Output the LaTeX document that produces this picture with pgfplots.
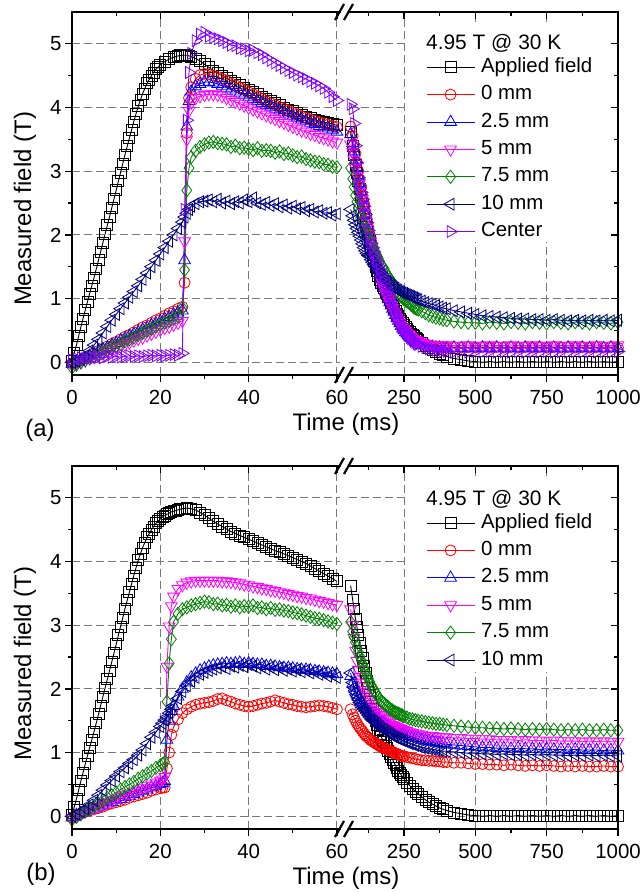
\documentclass[border=0pt]{standalone}
\usepackage{fontspec}
\setmainfont{Liberation Sans}
\usepackage{pgfplots}
\usepackage{pgfplotstable}
\pgfplotsset{compat=1.18}
\definecolor{cR}{RGB}{255,0,0}
\definecolor{cB}{RGB}{0,0,255}
\definecolor{cM}{RGB}{255,0,255}
\definecolor{cG}{RGB}{0,128,0}
\definecolor{cN}{RGB}{0,0,128}
\definecolor{cC}{RGB}{128,0,255}
\definecolor{cGrid}{RGB}{120,120,120}

\pgfplotstableread{
t A R B M G N C
0 0.02 -0.02 -0.03 -0.04 -0.08 0.00 0.04
1 0.27 0.00 0.00 -0.02 -0.04 0.02 0.06
2 0.55 0.03 0.03 0.00 0.00 0.05 0.07
3 0.82 0.07 0.06 0.03 0.03 0.10 0.06
4 1.08 0.10 0.10 0.06 0.07 0.18 0.08
5 1.33 0.14 0.13 0.08 0.10 0.27 0.07
6 1.60 0.18 0.17 0.11 0.13 0.36 0.08
7 1.88 0.21 0.20 0.14 0.16 0.46 0.07
8 2.15 0.25 0.23 0.17 0.20 0.56 0.09
9 2.42 0.29 0.27 0.20 0.23 0.66 0.08
10 2.70 0.32 0.30 0.23 0.26 0.75 0.09
11 2.98 0.36 0.34 0.25 0.29 0.84 0.08
12 3.26 0.40 0.37 0.28 0.33 0.93 0.09
13 3.52 0.43 0.41 0.31 0.36 1.02 0.10
14 3.78 0.47 0.44 0.34 0.39 1.11 0.09
15 4.02 0.51 0.47 0.37 0.43 1.20 0.10
16 4.22 0.55 0.51 0.39 0.46 1.30 0.09
17 4.38 0.58 0.54 0.42 0.49 1.40 0.10
18 4.50 0.62 0.58 0.45 0.52 1.50 0.11
19 4.60 0.66 0.61 0.48 0.56 1.60 0.10
20 4.67 0.69 0.64 0.51 0.59 1.70 0.11
21 4.72 0.73 0.68 0.54 0.62 1.80 0.10
22 4.76 0.77 0.71 0.56 0.65 1.90 0.11
23 4.79 0.80 0.75 0.59 0.69 2.00 0.12
24 4.81 0.84 0.78 0.62 0.72 2.10 0.11
25 4.82 0.87 0.81 0.65 0.85 2.20 0.14
25.5 4.82 1.25 1.60 1.90 1.45 2.28 2.40
26 4.82 3.60 3.70 3.50 2.70 2.34 3.80
26.5 4.81 4.15 4.10 3.95 3.05 2.40 4.55
27 4.80 4.32 4.25 4.08 3.22 2.45 4.85
28 4.77 4.45 4.33 4.15 3.32 2.49 5.05
29 4.73 4.51 4.37 4.18 3.38 2.52 5.15
30 4.68 4.53 4.40 4.20 3.42 2.53 5.18
31 4.63 4.52 4.40 4.21 3.45 2.55 5.12
32 4.58 4.50 4.39 4.21 3.46 2.52 5.10
33 4.54 4.48 4.37 4.20 3.44 2.56 5.08
34 4.50 4.45 4.34 4.18 3.43 2.50 5.05
35 4.46 4.42 4.31 4.15 3.42 2.53 5.02
36 4.42 4.38 4.28 4.12 3.38 2.49 4.98
37 4.39 4.35 4.25 4.09 3.40 2.52 4.97
38 4.35 4.31 4.22 4.06 3.36 2.50 4.93
39 4.31 4.28 4.19 4.03 3.37 2.55 4.92
40 4.28 4.24 4.16 4.00 3.35 2.52 4.89
41 4.25 4.21 4.13 3.97 3.33 2.58 4.90
42 4.21 4.17 4.10 3.94 3.36 2.50 4.86
43 4.17 4.14 4.07 3.91 3.32 2.48 4.83
44 4.13 4.10 4.04 3.88 3.33 2.51 4.78
45 4.10 4.07 4.01 3.85 3.32 2.46 4.74
46 4.07 4.04 3.98 3.82 3.29 2.49 4.70
47 4.04 4.01 3.95 3.79 3.31 2.44 4.66
48 4.00 3.98 3.92 3.76 3.27 2.47 4.62
49 3.97 3.95 3.89 3.73 3.28 2.42 4.58
50 3.94 3.92 3.86 3.70 3.25 2.45 4.55
51 3.91 3.89 3.84 3.67 3.22 2.41 4.51
52 3.88 3.86 3.81 3.64 3.23 2.43 4.48
53 3.86 3.84 3.79 3.62 3.19 2.38 4.45
54 3.83 3.81 3.76 3.59 3.17 2.40 4.41
55 3.81 3.79 3.74 3.57 3.15 2.36 4.38
56 3.79 3.77 3.71 3.54 3.14 2.38 4.34
57 3.77 3.75 3.69 3.52 3.11 2.34 4.30
58 3.76 3.73 3.67 3.50 3.10 2.35 4.24
59 3.74 3.71 3.65 3.47 3.07 2.31 4.17
60 3.72 3.69 3.62 3.45 3.06 2.33 4.11
}\Aleft

\pgfplotstableread{
t A R B M G N C
63 3.62 3.70 3.58 3.42 3.05 2.40 4.05
70 3.40 3.55 3.44 3.30 2.88 2.30 3.98
75 3.25 3.42 3.31 3.18 2.75 2.23 3.75
80 3.10 3.28 3.18 3.05 2.62 2.16 3.40
85 2.97 3.14 3.05 2.92 2.52 2.10 3.13
90 2.84 3.00 2.92 2.80 2.42 2.04 2.90
95 2.72 2.87 2.80 2.68 2.35 1.98 2.78
100 2.60 2.74 2.67 2.57 2.28 1.92 2.67
105 2.48 2.61 2.55 2.46 2.21 1.86 2.56
110 2.36 2.49 2.43 2.35 2.14 1.80 2.45
115 2.25 2.36 2.31 2.23 2.08 1.75 2.32
120 2.13 2.24 2.19 2.12 2.02 1.71 2.19
125 2.01 2.12 2.07 2.01 1.96 1.68 2.07
130 1.90 2.00 1.96 1.90 1.90 1.66 1.95
135 1.79 1.90 1.86 1.81 1.87 1.61 1.87
140 1.68 1.80 1.76 1.72 1.84 1.57 1.80
145 1.59 1.71 1.67 1.64 1.78 1.53 1.73
150 1.50 1.62 1.59 1.57 1.73 1.50 1.66
155 1.43 1.54 1.51 1.50 1.68 1.46 1.59
160 1.36 1.46 1.44 1.43 1.63 1.43 1.52
165 1.30 1.39 1.37 1.36 1.58 1.40 1.45
170 1.25 1.32 1.30 1.30 1.53 1.37 1.38
175 1.20 1.25 1.23 1.24 1.50 1.34 1.32
180 1.16 1.19 1.17 1.18 1.47 1.32 1.26
185 1.11 1.13 1.11 1.12 1.42 1.29 1.19
190 1.07 1.07 1.05 1.06 1.38 1.27 1.13
195 1.02 1.01 0.99 1.00 1.34 1.25 1.07
200 0.98 0.96 0.94 0.95 1.31 1.23 1.01
205 0.93 0.91 0.89 0.90 1.28 1.21 0.95
210 0.89 0.86 0.84 0.85 1.25 1.19 0.90
215 0.84 0.81 0.79 0.80 1.21 1.17 0.83
220 0.80 0.76 0.74 0.75 1.17 1.16 0.77
225 0.76 0.71 0.69 0.70 1.12 1.14 0.71
230 0.72 0.67 0.65 0.66 1.08 1.13 0.66
235 0.68 0.63 0.61 0.62 1.05 1.11 0.61
240 0.65 0.59 0.57 0.58 1.03 1.10 0.57
245 0.62 0.55 0.53 0.55 1.01 1.09 0.54
250 0.59 0.52 0.50 0.52 0.99 1.08 0.51
255 0.56 0.49 0.47 0.49 0.97 1.07 0.48
260 0.53 0.46 0.45 0.47 0.96 1.06 0.45
265 0.50 0.43 0.42 0.44 0.94 1.05 0.42
270 0.48 0.41 0.40 0.42 0.93 1.04 0.39
275 0.45 0.39 0.38 0.40 0.90 1.03 0.37
280 0.43 0.37 0.36 0.38 0.88 1.02 0.35
285 0.41 0.35 0.34 0.36 0.86 1.01 0.33
290 0.39 0.34 0.33 0.35 0.85 1.00 0.31
295 0.37 0.32 0.31 0.34 0.84 0.99 0.29
300 0.35 0.31 0.30 0.33 0.83 0.98 0.28
312 0.30 0.29 0.28 0.31 0.80 0.96 0.25
325 0.26 0.27 0.26 0.29 0.77 0.94 0.23
337 0.22 0.26 0.25 0.28 0.74 0.92 0.21
350 0.19 0.25 0.24 0.27 0.72 0.91 0.20
362 0.16 0.24 0.23 0.26 0.70 0.89 0.19
375 0.13 0.24 0.23 0.26 0.69 0.87 0.18
387 0.11 0.23 0.22 0.27 0.67 0.85 0.17
400 0.09 0.23 0.22 0.27 0.66 0.84 0.17
425 0.06 0.24 0.23 0.26 0.64 0.81 0.16
450 0.04 0.23 0.22 0.26 0.63 0.79 0.17
475 0.02 0.24 0.23 0.27 0.62 0.77 0.16
500 0.01 0.23 0.22 0.26 0.62 0.75 0.17
525 0.00 0.24 0.23 0.26 0.61 0.73 0.16
550 0.01 0.23 0.22 0.27 0.63 0.72 0.17
575 0.00 0.24 0.23 0.26 0.62 0.71 0.16
600 0.01 0.23 0.22 0.26 0.61 0.70 0.17
625 0.00 0.24 0.23 0.27 0.63 0.69 0.16
650 0.01 0.23 0.22 0.26 0.62 0.68 0.17
675 0.00 0.24 0.23 0.26 0.61 0.68 0.16
700 0.01 0.23 0.22 0.27 0.63 0.67 0.17
725 0.00 0.24 0.23 0.26 0.62 0.67 0.16
750 0.01 0.23 0.22 0.26 0.61 0.66 0.17
775 0.00 0.24 0.23 0.27 0.63 0.67 0.16
800 0.01 0.23 0.22 0.26 0.62 0.66 0.17
825 0.00 0.24 0.23 0.26 0.61 0.65 0.16
850 0.01 0.23 0.22 0.27 0.63 0.66 0.17
875 0.00 0.24 0.23 0.26 0.62 0.65 0.16
900 0.01 0.23 0.22 0.26 0.61 0.66 0.17
925 0.00 0.24 0.23 0.27 0.63 0.65 0.16
950 0.01 0.23 0.22 0.26 0.62 0.66 0.17
975 0.00 0.24 0.23 0.26 0.61 0.65 0.16
1000 0.01 0.23 0.22 0.27 0.63 0.66 0.17
}\Aright

\pgfplotstableread{
t A R B M G N
0 0.02 -0.02 -0.02 -0.03 -0.05 0.00
1 0.27 0.02 0.02 0.00 -0.01 0.03
2 0.55 0.04 0.05 0.05 0.03 0.07
3 0.82 0.07 0.07 0.08 0.08 0.12
4 1.08 0.09 0.10 0.11 0.12 0.18
5 1.33 0.11 0.12 0.14 0.16 0.25
6 1.60 0.13 0.15 0.17 0.20 0.33
7 1.88 0.15 0.17 0.20 0.25 0.41
8 2.15 0.18 0.20 0.22 0.29 0.49
9 2.42 0.20 0.22 0.25 0.33 0.56
10 2.70 0.22 0.25 0.28 0.37 0.63
11 2.98 0.24 0.27 0.31 0.42 0.70
12 3.26 0.26 0.30 0.34 0.46 0.76
13 3.52 0.29 0.32 0.36 0.50 0.83
14 3.78 0.31 0.35 0.39 0.54 0.89
15 4.02 0.33 0.37 0.42 0.59 0.96
16 4.22 0.35 0.40 0.45 0.63 1.04
17 4.38 0.37 0.42 0.48 0.67 1.14
18 4.50 0.40 0.45 0.50 0.71 1.24
19 4.60 0.42 0.47 0.53 0.76 1.32
20 4.67 0.44 0.50 0.56 0.80 1.41
20.5 4.70 0.45 0.52 0.58 0.82 1.46
21 4.72 0.45 0.55 0.62 0.85 1.51
21.5 4.74 0.75 1.20 2.35 1.80 1.56
22 4.76 1.00 1.50 2.98 2.40 1.62
22.5 4.78 1.28 1.65 3.30 2.78 1.68
23 4.79 1.40 1.73 3.45 3.05 1.74
24 4.81 1.52 1.88 3.57 3.18 1.85
25 4.83 1.62 2.00 3.63 3.25 1.96
26 4.84 1.68 2.10 3.67 3.28 2.05
27 4.83 1.72 2.18 3.69 3.31 2.12
28 4.81 1.75 2.24 3.70 3.33 2.18
29 4.77 1.77 2.29 3.70 3.35 2.23
30 4.73 1.78 2.32 3.70 3.37 2.26
31 4.68 1.79 2.35 3.70 3.36 2.29
32 4.63 1.81 2.37 3.70 3.33 2.31
33 4.59 1.84 2.38 3.70 3.34 2.33
34 4.55 1.85 2.39 3.69 3.31 2.35
35 4.51 1.82 2.40 3.69 3.32 2.32
36 4.47 1.80 2.39 3.68 3.29 2.36
37 4.44 1.77 2.40 3.67 3.31 2.34
38 4.41 1.75 2.41 3.66 3.28 2.37
39 4.38 1.73 2.39 3.64 3.30 2.35
40 4.35 1.72 2.40 3.63 3.29 2.38
41 4.32 1.73 2.39 3.61 3.31 2.36
42 4.29 1.75 2.38 3.60 3.27 2.33
43 4.26 1.77 2.38 3.58 3.28 2.35
44 4.23 1.78 2.36 3.57 3.25 2.31
45 4.20 1.80 2.36 3.55 3.27 2.34
46 4.17 1.82 2.35 3.54 3.24 2.30
47 4.15 1.80 2.34 3.52 3.25 2.33
48 4.12 1.78 2.33 3.51 3.23 2.29
49 4.09 1.76 2.33 3.49 3.22 2.31
50 4.06 1.75 2.32 3.48 3.20 2.28
51 4.03 1.73 2.31 3.46 3.19 2.30
52 4.00 1.72 2.30 3.45 3.17 2.27
53 3.97 1.71 2.30 3.43 3.15 2.29
54 3.93 1.72 2.29 3.42 3.13 2.25
55 3.89 1.73 2.28 3.40 3.11 2.27
56 3.85 1.74 2.27 3.38 3.10 2.23
57 3.81 1.73 2.26 3.37 3.08 2.25
58 3.77 1.72 2.25 3.35 3.06 2.20
59 3.73 1.70 2.24 3.33 3.04 2.22
60 3.69 1.68 2.23 3.32 3.02 2.18
}\Bleft

\pgfplotstableread{
t A R B M G N
63 3.62 1.68 2.20 3.25 3.05 2.25
70 3.40 1.60 2.08 3.00 2.90 2.10
75 3.25 1.55 2.02 2.80 2.81 2.02
80 3.10 1.50 1.96 2.60 2.73 1.95
85 2.97 1.46 1.91 2.44 2.65 1.89
90 2.84 1.42 1.87 2.30 2.58 1.84
95 2.72 1.39 1.83 2.19 2.51 1.79
100 2.60 1.36 1.80 2.10 2.45 1.75
105 2.48 1.33 1.77 2.04 2.39 1.71
110 2.36 1.30 1.74 1.98 2.33 1.68
115 2.25 1.27 1.71 1.93 2.27 1.65
120 2.13 1.25 1.69 1.88 2.21 1.62
125 2.01 1.23 1.66 1.84 2.16 1.59
130 1.90 1.21 1.64 1.80 2.11 1.56
135 1.79 1.19 1.62 1.76 2.06 1.53
140 1.68 1.18 1.60 1.73 2.02 1.51
145 1.59 1.16 1.58 1.70 1.98 1.49
150 1.50 1.15 1.56 1.67 1.94 1.47
155 1.43 1.13 1.54 1.64 1.90 1.45
160 1.36 1.12 1.52 1.62 1.87 1.43
165 1.30 1.10 1.50 1.59 1.84 1.41
170 1.25 1.09 1.49 1.57 1.81 1.39
175 1.20 1.08 1.47 1.55 1.79 1.37
180 1.16 1.07 1.46 1.53 1.77 1.36
185 1.11 1.06 1.44 1.51 1.75 1.34
190 1.07 1.05 1.43 1.49 1.73 1.33
195 1.02 1.04 1.41 1.47 1.71 1.31
200 0.98 1.03 1.40 1.46 1.69 1.30
205 0.93 1.02 1.38 1.44 1.67 1.28
210 0.89 1.01 1.37 1.43 1.66 1.27
215 0.84 1.00 1.36 1.42 1.64 1.25
220 0.80 0.99 1.35 1.41 1.63 1.24
225 0.76 0.98 1.34 1.40 1.62 1.23
230 0.72 0.97 1.33 1.39 1.61 1.22
235 0.68 0.96 1.32 1.38 1.60 1.21
240 0.65 0.95 1.31 1.37 1.59 1.20
245 0.62 0.94 1.30 1.36 1.58 1.19
250 0.59 0.94 1.29 1.35 1.57 1.18
260 0.53 0.93 1.27 1.34 1.55 1.16
270 0.48 0.92 1.26 1.32 1.53 1.14
280 0.43 0.91 1.24 1.31 1.52 1.13
290 0.39 0.90 1.23 1.30 1.51 1.11
300 0.35 0.89 1.22 1.29 1.50 1.10
312 0.30 0.88 1.20 1.28 1.49 1.08
325 0.26 0.88 1.19 1.27 1.48 1.07
337 0.22 0.87 1.18 1.26 1.47 1.06
350 0.19 0.87 1.17 1.26 1.46 1.05
362 0.16 0.86 1.16 1.25 1.45 1.04
375 0.13 0.86 1.15 1.25 1.45 1.03
387 0.11 0.85 1.14 1.24 1.44 1.02
400 0.09 0.85 1.13 1.24 1.43 1.02
425 0.06 0.84 1.12 1.23 1.42 1.01
450 0.04 0.84 1.11 1.23 1.41 1.00
475 0.02 0.83 1.10 1.22 1.40 0.99
500 0.01 0.82 1.09 1.22 1.39 0.99
525 0.00 0.82 1.08 1.21 1.39 0.98
550 0.01 0.81 1.08 1.21 1.38 0.98
575 0.00 0.81 1.07 1.20 1.38 0.97
600 0.01 0.80 1.07 1.20 1.37 0.98
625 0.00 0.81 1.06 1.20 1.38 0.97
650 0.01 0.80 1.07 1.19 1.37 0.97
675 0.00 0.79 1.06 1.20 1.36 0.96
700 0.01 0.80 1.06 1.19 1.37 0.97
725 0.00 0.79 1.05 1.19 1.36 0.96
750 0.01 0.80 1.06 1.18 1.37 0.97
775 0.00 0.79 1.05 1.19 1.36 0.96
800 0.01 0.78 1.05 1.18 1.35 0.96
825 0.00 0.79 1.04 1.18 1.36 0.95
850 0.01 0.78 1.05 1.18 1.35 0.96
875 0.00 0.79 1.04 1.17 1.36 0.95
900 0.01 0.78 1.04 1.18 1.35 0.96
925 0.00 0.78 1.04 1.17 1.35 0.95
950 0.01 0.79 1.03 1.18 1.36 0.96
975 0.00 0.78 1.04 1.17 1.35 0.95
1000 0.01 0.78 1.03 1.17 1.35 0.95
}\Bright

\pgfplotstableread{
t A
0.5 0.14
1.5 0.41
2.5 0.68
3.5 0.95
4.5 1.20
5.5 1.46
6.5 1.74
7.5 2.01
8.5 2.28
9.5 2.56
10.5 2.84
11.5 3.12
12.5 3.39
13.5 3.65
14.5 3.90
15.5 4.12
16.5 4.30
17.5 4.44
18.5 4.55
19.5 4.64
23.5 4.80
24.5 4.82
}\Arise

\pgfplotsset{
  base/.style={scale only axis, height=363bp, ymin=-0.2, ymax=5.5,
    axis line style={draw=none},
    tick align=outside,
    major tick length=7bp, minor tick length=4bp,
    every tick/.append style={black, line width=1.3bp},
    ticklabel style={font=\fontsize{20.5}{24}\selectfont},
    xticklabel style={yshift=-5bp},
    ytick={0,1,2,3,4,5}},
  main/.style={base, grid=major,
    major grid style={cGrid, line width=0.9bp, dash pattern=on 8bp off 4bp},
    xtick pos=left},
  leftax/.style={main, width=268bp, xmin=0, xmax=60.7,
    xtick={0,20,40,60}, minor xtick={10,30,50}, xticklabels={0,20,40,60},
    ytick pos=left, minor ytick={0.5,1.5,2.5,3.5,4.5}, yticklabels={0,1,2,3,4,5}},
  rightax/.style={main, width=269bp, xmin=57.2, xmax=1000,
    xtick={250,500,750,1000}, minor xtick={125,375,625,875},
    xticklabels={250,500,750,1000}, yticklabels={}, ytick style={draw=none},
    legend cell align=left,
    legend image code/.code={\draw[mark repeat=2,mark phase=2,##1] plot coordinates {(0bp,0bp) (24bp,0bp) (48bp,0bp)};},
    legend style={anchor=north west, draw=none, fill=none, inner sep=0pt,
      row sep=6.7bp, column sep=5bp, font=\fontsize{20.5}{24}\selectfont,
      nodes={inner sep=1bp, text height=14.5bp, text depth=4.2bp}}},
  ovl/.style={base, tick align=inside, xtick pos=right, xticklabels={}, yticklabels={}},
  leftovl/.style={ovl, width=268bp, xmin=0, xmax=60.7, xtick={0,20,40,60}, minor xtick={10,30,50}, ytick=\empty},
  rightovl/.style={ovl, width=269bp, xmin=57.2, xmax=1000, xtick={250,500,750,1000}, minor xtick={125,375,625,875}, ytick pos=right, minor ytick={0.5,1.5,2.5,3.5,4.5}},
  sA/.style={color=black, line width=0.9bp, mark=square, mark size=5.5bp, mark options={solid, line width=0.8bp}},
  sR/.style={color=cR, line width=0.9bp, mark=o, mark size=5.5bp, mark options={solid, line width=0.8bp}},
  sB/.style={color=cB, line width=0.9bp, mark=triangle, mark size=6.8bp, mark options={solid, line width=0.8bp}},
  sM/.style={color=cM, line width=0.9bp, mark=triangle, mark size=6.8bp, mark options={solid, line width=0.8bp, rotate=180}},
  sG/.style={color=cG, line width=0.9bp, mark=diamond, mark size=6.6bp, mark options={solid, line width=0.8bp}},
  sN/.style={color=cN, line width=0.9bp, mark=triangle, mark size=6.8bp, mark options={solid, line width=0.8bp, rotate=90}},
  sC/.style={color=cC, line width=0.9bp, mark=triangle, mark size=6.8bp, mark options={solid, line width=0.8bp, rotate=-90}},
}

\begin{document}
\begin{tikzpicture}
\path[use as bounding box] (0bp,0bp) rectangle (642bp,892bp);

% ---------------- panel (a) ----------------
\begin{axis}[leftax, at={(72bp,880bp)}, anchor=north west]
\addplot[sA] table[x=t,y=A]{\Aleft};
\addplot[sA, only marks] table[x=t,y=A]{\Arise};
\addplot[sR] table[x=t,y=R]{\Aleft};
\addplot[sB] table[x=t,y=B]{\Aleft};
\addplot[sM] table[x=t,y=M]{\Aleft};
\addplot[sG] table[x=t,y=G]{\Aleft};
\addplot[sN] table[x=t,y=N]{\Aleft};
\addplot[sC] table[x=t,y=C]{\Aleft};
\end{axis}
\begin{axis}[leftovl, at={(72bp,880bp)}, anchor=north west]
\end{axis}

\begin{axis}[rightax, at={(349bp,880bp)}, anchor=north west,
  legend style={at={(rel axis cs:0.286,0.877)}}]
\fill[white] (rel axis cs:0.212,0.366) rectangle (rel axis cs:0.978,0.972);
\addplot[sA] table[x=t,y=A]{\Aright}; \addlegendentry{Applied field}
\addplot[sR] table[x=t,y=R]{\Aright}; \addlegendentry{0 mm}
\addplot[sB] table[x=t,y=B]{\Aright}; \addlegendentry{2.5 mm}
\addplot[sM] table[x=t,y=M]{\Aright}; \addlegendentry{5 mm}
\addplot[sG] table[x=t,y=G]{\Aright}; \addlegendentry{7.5 mm}
\addplot[sN] table[x=t,y=N]{\Aright}; \addlegendentry{10 mm}
\addplot[sC] table[x=t,y=C]{\Aright}; \addlegendentry{Center}
\node[anchor=west, inner sep=0pt, font=\fontsize{21}{24}\selectfont] at (rel axis cs:0.286,0.914) {4.95 T @ 30 K};
\end{axis}
\begin{axis}[rightovl, at={(349bp,880bp)}, anchor=north west]
\end{axis}

% ---------------- panel (b) ----------------
\begin{axis}[leftax, at={(72bp,426bp)}, anchor=north west]
\addplot[sA] table[x=t,y=A]{\Bleft};
\addplot[sA, only marks] table[x=t,y=A]{\Arise};
\addplot[sR] table[x=t,y=R]{\Bleft};
\addplot[sB] table[x=t,y=B]{\Bleft};
\addplot[sM] table[x=t,y=M]{\Bleft};
\addplot[sG] table[x=t,y=G]{\Bleft};
\addplot[sN] table[x=t,y=N]{\Bleft};
\end{axis}
\begin{axis}[leftovl, at={(72bp,426bp)}, anchor=north west]
\end{axis}

\begin{axis}[rightax, at={(349bp,426bp)}, anchor=north west,
  legend style={at={(rel axis cs:0.286,0.872)}}]
\fill[white] (rel axis cs:0.212,0.433) rectangle (rel axis cs:0.978,0.972);
\addplot[sA] table[x=t,y=A]{\Bright}; \addlegendentry{Applied field}
\addplot[sR] table[x=t,y=R]{\Bright}; \addlegendentry{0 mm}
\addplot[sB] table[x=t,y=B]{\Bright}; \addlegendentry{2.5 mm}
\addplot[sM] table[x=t,y=M]{\Bright}; \addlegendentry{5 mm}
\addplot[sG] table[x=t,y=G]{\Bright}; \addlegendentry{7.5 mm}
\addplot[sN] table[x=t,y=N]{\Bright}; \addlegendentry{10 mm}
\node[anchor=west, inner sep=0pt, font=\fontsize{21}{24}\selectfont] at (rel axis cs:0.286,0.909) {4.95 T @ 30 K};
\end{axis}
\begin{axis}[rightovl, at={(349bp,426bp)}, anchor=north west]
\end{axis}

% ---------------- frames and breaks ----------------
\begin{scope}[line width=1.8bp, line cap=rect]
\draw (340bp,880bp) -- (72bp,880bp) -- (72bp,517bp) -- (340bp,517bp);
\draw (349bp,880bp) -- (618bp,880bp) -- (618bp,517bp) -- (349bp,517bp);
\draw (340bp,426bp) -- (72bp,426bp) -- (72bp,63bp) -- (340bp,63bp);
\draw (349bp,426bp) -- (618bp,426bp) -- (618bp,63bp) -- (349bp,63bp);
\end{scope}
\begin{scope}[line width=2.2bp]
\foreach \yy in {517,880,63,426} {
  \draw (335bp,\yy bp-8bp) -- (344bp,\yy bp+8bp);
  \draw (344bp,\yy bp-8bp) -- (353bp,\yy bp+8bp);
}
\end{scope}

% ---------------- labels ----------------
\node[rotate=90, font=\fontsize{24}{28}\selectfont] at (25bp,683bp) {Measured field (T)};
\node[rotate=90, font=\fontsize{24}{28}\selectfont] at (25bp,228.5bp) {Measured field (T)};
\node[font=\fontsize{24}{28}\selectfont] at (346bp,468bp) {Time (ms)};
\node[font=\fontsize{24}{28}\selectfont] at (346bp,13.5bp) {Time (ms)};
\node[font=\fontsize{24}{28}\selectfont] at (40bp,462bp) {(a)};
\node[font=\fontsize{24}{28}\selectfont] at (41bp,18bp) {(b)};
\end{tikzpicture}
\end{document}
